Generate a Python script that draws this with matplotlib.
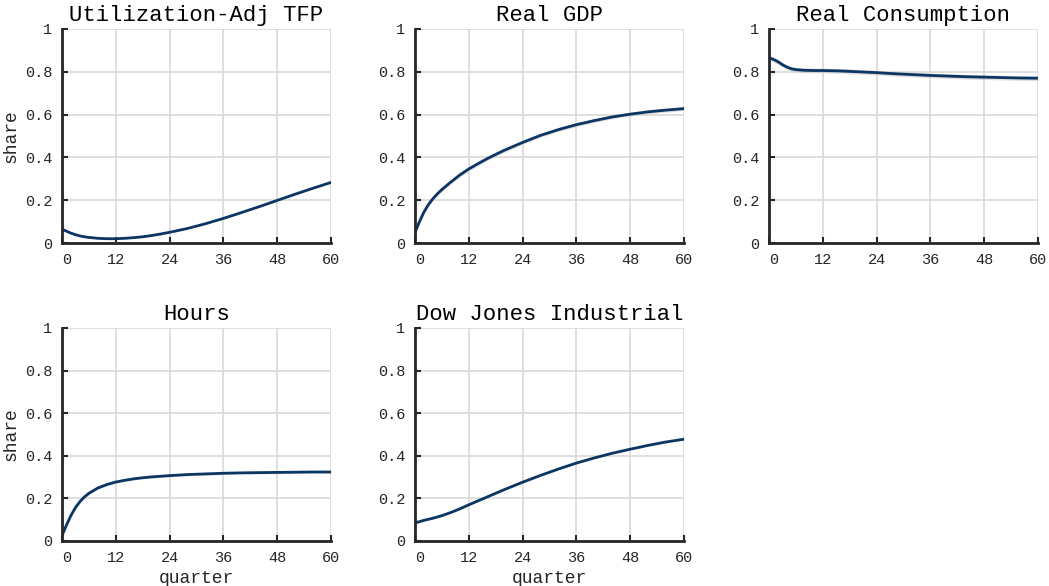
import numpy as np
import matplotlib
matplotlib.use("Agg")
import matplotlib.pyplot as plt
from matplotlib.transforms import ScaledTranslation

# --- данные
titles = ["Utilization-Adj TFP", "Real GDP", "Real Consumption", "Hours", "Dow Jones Industrial"]

quarters = [0, 1, 2, 3, 4, 5, 6, 8, 10, 12, 14, 16, 18, 20, 22, 24, 28, 32, 36, 40, 44, 48, 52, 56, 60]

tfp = [0.065, 0.055, 0.046, 0.039, 0.033, 0.029, 0.026, 0.022, 0.020, 0.020, 0.022, 0.025, 0.029,
       0.035, 0.042, 0.050, 0.068, 0.090, 0.115, 0.142, 0.170, 0.199, 0.228, 0.256, 0.283]
gdp = [0.050, 0.100, 0.145, 0.180, 0.207, 0.230, 0.250, 0.285, 0.318, 0.346, 0.370, 0.393, 0.414,
       0.434, 0.452, 0.470, 0.503, 0.530, 0.553, 0.572, 0.589, 0.602, 0.613, 0.621, 0.628]
cons = [0.865, 0.858, 0.847, 0.833, 0.822, 0.814, 0.810, 0.807, 0.806, 0.806, 0.805, 0.804, 0.802,
        0.800, 0.798, 0.796, 0.791, 0.787, 0.783, 0.780, 0.777, 0.775, 0.773, 0.771, 0.770]
hours = [0.025, 0.075, 0.120, 0.157, 0.185, 0.207, 0.224, 0.249, 0.265, 0.277, 0.285, 0.292, 0.297,
         0.301, 0.304, 0.307, 0.312, 0.315, 0.318, 0.320, 0.321, 0.322, 0.323, 0.324, 0.324]
dow = [0.085, 0.091, 0.097, 0.102, 0.107, 0.113, 0.119, 0.134, 0.151, 0.170, 0.188, 0.206, 0.224,
       0.242, 0.259, 0.276, 0.308, 0.338, 0.366, 0.390, 0.412, 0.431, 0.449, 0.465, 0.478]

# --- полуширина серой полосы для каждого графика
band = [0.003, 0.009, 0.011, 0.006, 0.004]

series = [tfp, gdp, cons, hours, dow]

LINE = "#0b3563"
TXT = "#262626"
FONT = "Liberation Mono"

fig = plt.figure(figsize=(10.49, 5.86), dpi=100)

lefts = [62 / 1049, 415 / 1049, 769 / 1049]
w = 269 / 1049
rows = [(1 - 243 / 586, 214 / 586), (1 - 541 / 586, 213 / 586)]

for k in range(5):
    r, c = divmod(k, 3)
    ax = fig.add_axes([lefts[c], rows[r][0], w, rows[r][1]])
    y = np.array(series[k])
    ax.fill_between(quarters, y - band[k], y + band[k], color="#c8c8c8", alpha=0.6, lw=0)
    ax.plot(quarters, y, color=LINE, lw=2.0, solid_joinstyle="round")

    ax.set_xlim(0, 60)
    ax.set_ylim(0, 1)
    ax.set_xticks([0, 12, 24, 36, 48, 60])
    ax.set_yticks([0, 0.2, 0.4, 0.6, 0.8, 1])
    ax.set_yticklabels(["0", "0.2", "0.4", "0.6", "0.8", "1"])
    ax.grid(True, color="#d9d9d9", lw=1.2)
    ax.set_axisbelow(True)
    for s in ["top", "right"]:
        ax.spines[s].set_visible(False)
    for s in ["left", "bottom"]:
        ax.spines[s].set_color(TXT)
        ax.spines[s].set_linewidth(2.0)
    ax.tick_params(direction="in", length=4, width=1.5, colors=TXT, labelsize=11, pad=7)
    for lab in ax.get_xticklabels() + ax.get_yticklabels():
        lab.set_fontfamily(FONT)
        lab.set_color(TXT)
    # --- подпись "0" по оси x сдвинута вправо, как в оригинале
    x0 = ax.get_xticklabels()[0]
    x0.set_transform(x0.get_transform() + ScaledTranslation(5 / 100, 0, fig.dpi_scale_trans))
    ax.set_title(titles[k], fontfamily=FONT, fontsize=16, color="black", pad=6)
    if c == 0:
        ax.set_ylabel("share", fontfamily=FONT, fontsize=13, color=TXT, labelpad=4)
    if r == 1:
        ax.set_xlabel("quarter", fontfamily=FONT, fontsize=13, color=TXT, labelpad=4)

fig.savefig("out.png", dpi=100)
